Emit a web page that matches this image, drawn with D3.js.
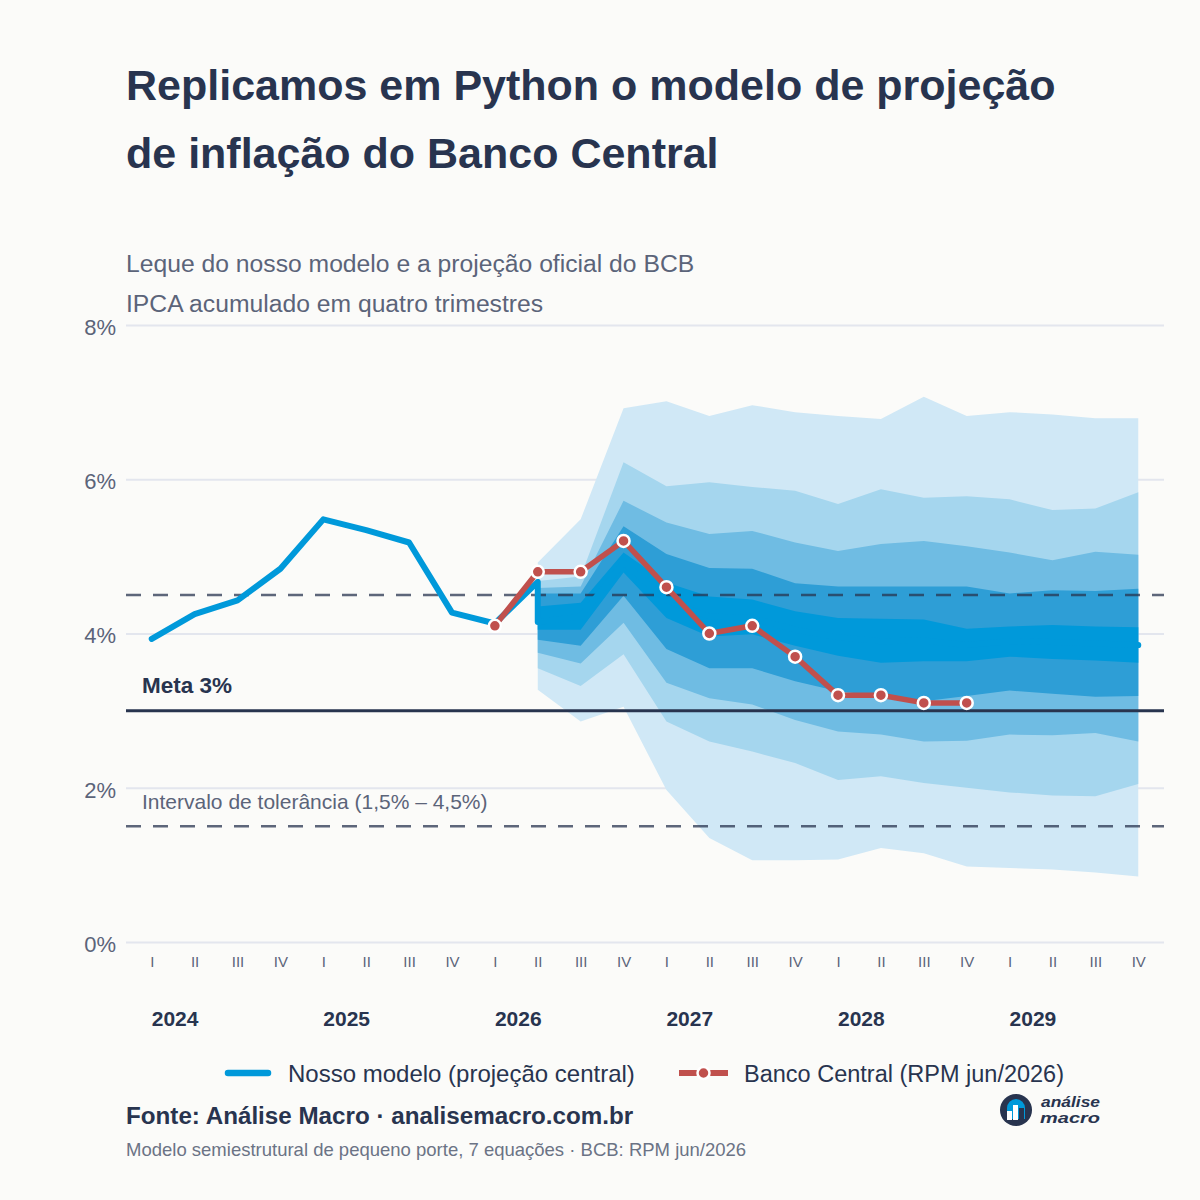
<!DOCTYPE html>
<html>
<head>
<meta charset="utf-8">
<script src="https://cdn.jsdelivr.net/npm/d3@7"></script>
<style>
  html, body { margin: 0; padding: 0; background: #fbfbf9; }
  svg { display: block; font-family: "Liberation Sans", Arial, Helvetica, sans-serif; }
</style>
</head>
<body>
<svg id="chart" width="1200" height="1200"></svg>
<script>
// dados
const years = [2024, 2025, 2026, 2027, 2028, 2029];
const romans = ['I', 'II', 'III', 'IV'];
const quarters = years.flatMap(y => romans.map(r => `${y}-${r}`));

// IPCA observado (2024-I a 2026-II)
const historico = [3.93, 4.25, 4.43, 4.84, 5.48, 5.34, 5.18, 4.27, 4.13, 4.67];
// projeção central do nosso modelo (2026-II a 2029-IV)
const central = [4.15, 4.22, 4.92, 4.43, 4.22, 4.20, 4.05, 3.95, 3.90, 3.91, 3.85, 3.90, 3.89, 3.87, 3.85];
// bandas do leque (de fora para dentro)
const sup1 = [4.92, 5.48, 6.92, 7.01, 6.82, 6.96, 6.87, 6.82, 6.78, 7.07, 6.82, 6.87, 6.84, 6.79, 6.79];
const sup2 = [4.68, 4.74, 6.22, 5.91, 5.96, 5.90, 5.85, 5.68, 5.87, 5.76, 5.78, 5.74, 5.60, 5.62, 5.83];
const sup3 = [4.59, 4.61, 5.72, 5.44, 5.29, 5.33, 5.18, 5.07, 5.16, 5.20, 5.13, 5.05, 4.95, 5.06, 5.02];
const sup4 = [4.52, 4.52, 5.39, 5.03, 4.85, 4.84, 4.65, 4.61, 4.61, 4.61, 4.61, 4.52, 4.56, 4.55, 4.58];
const sup5 = [4.35, 4.40, 5.05, 4.66, 4.48, 4.44, 4.29, 4.20, 4.19, 4.18, 4.06, 4.09, 4.11, 4.09, 4.08];
const inf5 = [4.05, 4.05, 4.79, 4.20, 3.96, 3.99, 3.84, 3.71, 3.62, 3.64, 3.64, 3.70, 3.67, 3.65, 3.62];
const inf4 = [3.92, 3.84, 4.49, 3.80, 3.55, 3.55, 3.38, 3.25, 3.19, 3.12, 3.19, 3.26, 3.22, 3.18, 3.19];
const inf3 = [3.75, 3.61, 4.14, 3.36, 3.16, 3.08, 2.88, 2.73, 2.69, 2.60, 2.61, 2.69, 2.68, 2.71, 2.60];
const inf2 = [3.55, 3.32, 3.73, 2.86, 2.60, 2.47, 2.32, 2.10, 2.15, 2.06, 2.00, 1.94, 1.90, 1.89, 2.05];
const inf1 = [3.27, 2.86, 3.05, 1.97, 1.35, 1.06, 1.06, 1.07, 1.22, 1.15, 0.98, 0.96, 0.94, 0.90, 0.85];
// Banco Central, RPM jun/2026 (2026-I a 2028-IV)
const bcb = [4.1, 4.8, 4.8, 5.2, 4.6, 4.0, 4.1, 3.7, 3.2, 3.2, 3.1, 3.1];

const yTicks = [0, 2, 4, 6, 8];
const meta = 3;
const tolerancia = [1.5, 4.5];

const histQ = quarters.slice(0, historico.length);
const projQ = quarters.slice(historico.length - 1);
const bcbQ = quarters.slice(8, 8 + bcb.length);

// cores
const navy = '#28344f';
const gray = '#5b6479';
const blue = '#0099da';
const fanColors = ['#d0e8f6', '#a5d6ee', '#6fbce3', '#2e9ed6', '#0099da'];
const red = '#c0504d';

const svg = d3.select('#chart');
svg.append('rect').attr('width', 1200).attr('height', 1200).attr('fill', '#fbfbf9');

const left = 126, right = 1164;
const x = d3.scalePoint().domain(quarters).range([left, right]).padding(0.6);
const y = d3.scaleLinear().domain([0, 8]).range([942, 325]);

// títulos
const title = svg.append('text')
  .attr('x', 126).attr('y', 100)
  .attr('fill', navy)
  .style('font-size', '43px').style('font-weight', 'bold');
title.append('tspan').attr('x', 126).text('Replicamos em Python o modelo de projeção');
title.append('tspan').attr('x', 126).attr('y', 168).text('de inflação do Banco Central');

svg.append('text').attr('x', 126).attr('y', 272)
  .attr('fill', gray).style('font-size', '24.7px')
  .text('Leque do nosso modelo e a projeção oficial do BCB');
svg.append('text').attr('x', 126).attr('y', 312)
  .attr('fill', gray).style('font-size', '24.7px')
  .text('IPCA acumulado em quatro trimestres');

// eixo y com grade
const yAxis = svg.append('g')
  .attr('transform', `translate(${left},0)`)
  .call(d3.axisLeft(y).tickValues(yTicks).tickFormat(d => d + '%')
    .tickSize(-(right - left)).tickPadding(10));
yAxis.select('.domain').remove();
yAxis.selectAll('line').attr('stroke', '#e3e6ee').attr('stroke-width', 2);
yAxis.selectAll('text')
  .attr('fill', gray).attr('dy', '0.42em')
  .style('font-size', '22px').style('font-family', '"Liberation Sans", Arial, sans-serif');

// eixo x (trimestres)
const xAxis = svg.append('g')
  .attr('transform', `translate(0,${y(0)})`)
  .call(d3.axisBottom(x).tickSize(0).tickPadding(14).tickFormat(d => d.split('-')[1]));
xAxis.select('.domain').remove();
xAxis.selectAll('text')
  .attr('fill', gray)
  .style('font-size', '15px').style('font-family', '"Liberation Sans", Arial, sans-serif');

svg.append('g').selectAll('text')
  .data(years)
  .join('text')
  .attr('x', d => x(`${d}-I`))
  .attr('y', 1026)
  .attr('fill', navy)
  .style('font-size', '21px').style('font-weight', 'bold')
  .text(d => d);

// leque
const bandas = [
  [sup1, inf1], [sup2, inf2], [sup3, inf3], [sup4, inf4], [sup5, inf5]
];
const area = d3.area()
  .x((d, i) => x(projQ[i]))
  .y0(d => y(d[1]))
  .y1(d => y(d[0]));

svg.append('g').selectAll('path')
  .data(bandas)
  .join('path')
  .attr('d', b => area(b[0].map((v, i) => [v, b[1][i]])))
  .attr('fill', (d, i) => fanColors[i]);

// intervalo de tolerância
svg.append('g').selectAll('line')
  .data(tolerancia)
  .join('line')
  .attr('x1', left).attr('x2', right)
  .attr('y1', d => y(d)).attr('y2', d => y(d))
  .attr('stroke', navy).attr('stroke-opacity', 0.75)
  .attr('stroke-width', 2.5).attr('stroke-dasharray', '15,12');

// meta
svg.append('line')
  .attr('x1', left).attr('x2', right)
  .attr('y1', y(meta)).attr('y2', y(meta))
  .attr('stroke', navy).attr('stroke-width', 3);

svg.append('text').attr('x', 142).attr('y', 693)
  .attr('fill', navy).style('font-size', '22.5px').style('font-weight', 'bold')
  .text('Meta 3%');
svg.append('text').attr('x', 142).attr('y', 809)
  .attr('fill', gray).style('font-size', '21px')
  .text('Intervalo de tolerância (1,5% – 4,5%)');

// nosso modelo: histórico + projeção central
const modelo = historico.map((v, i) => [histQ[i], v])
  .concat(central.map((v, i) => [projQ[i], v]));
const line = d3.line().x(d => x(d[0])).y(d => y(d[1]));

svg.append('path')
  .datum(modelo)
  .attr('d', line)
  .attr('fill', 'none')
  .attr('stroke', blue).attr('stroke-width', 6)
  .attr('stroke-linejoin', 'round').attr('stroke-linecap', 'round');

// Banco Central
const bcbPts = bcb.map((v, i) => [bcbQ[i], v]);
svg.append('path')
  .datum(bcbPts)
  .attr('d', line)
  .attr('fill', 'none')
  .attr('stroke', red).attr('stroke-width', 5.5)
  .attr('stroke-linejoin', 'round');
svg.append('g').selectAll('circle')
  .data(bcbPts)
  .join('circle')
  .attr('cx', d => x(d[0])).attr('cy', d => y(d[1]))
  .attr('r', 6)
  .attr('fill', red).attr('stroke', '#ffffff').attr('stroke-width', 2.5);

// legenda
const leg = svg.append('g');
leg.append('line').attr('x1', 228).attr('x2', 268).attr('y1', 1073).attr('y2', 1073)
  .attr('stroke', blue).attr('stroke-width', 6.5).attr('stroke-linecap', 'round');
leg.append('text').attr('x', 288).attr('y', 1082)
  .attr('fill', navy).style('font-size', '24px')
  .text('Nosso modelo (projeção central)');
leg.append('line').attr('x1', 679).attr('x2', 728).attr('y1', 1073).attr('y2', 1073)
  .attr('stroke', red).attr('stroke-width', 6);
leg.append('circle').attr('cx', 703.5).attr('cy', 1073).attr('r', 6)
  .attr('fill', red).attr('stroke', '#ffffff').attr('stroke-width', 2.5);
leg.append('text').attr('x', 744).attr('y', 1082)
  .attr('fill', navy).style('font-size', '23.5px')
  .text('Banco Central (RPM jun/2026)');

// rodapé
svg.append('text').attr('x', 126).attr('y', 1124)
  .attr('fill', navy).style('font-size', '24.2px').style('font-weight', 'bold')
  .text('Fonte: Análise Macro · analisemacro.com.br');
svg.append('text').attr('x', 126).attr('y', 1156)
  .attr('fill', '#6b7385').style('font-size', '18.5px')
  .text('Modelo semiestrutural de pequeno porte, 7 equações · BCB: RPM jun/2026');

// logo
const logo = svg.append('g').attr('transform', 'translate(1016,1110)');
logo.append('circle').attr('r', 16).attr('fill', navy);
logo.append('path')
  .attr('d', 'M-9,9 V-2 A9,9 0 0 1 9,-2 V9 Z')
  .attr('fill', blue);
logo.append('rect').attr('x', -9).attr('y', 1).attr('width', 5).attr('height', 9).attr('fill', '#ffffff');
logo.append('rect').attr('x', -3).attr('y', -5).attr('width', 5).attr('height', 15).attr('fill', '#ffffff');
logo.append('rect').attr('x', 3).attr('y', -2).attr('width', 5).attr('height', 12).attr('fill', navy);
svg.append('text').attr('x', 1041).attr('y', 1107)
  .attr('fill', navy).style('font-size', '14.5px').style('font-weight', 'bold')
  .style('font-style', 'italic')
  .attr('textLength', 59).attr('lengthAdjust', 'spacingAndGlyphs')
  .text('análise');
svg.append('text').attr('x', 1040).attr('y', 1123)
  .attr('fill', navy).style('font-size', '14.5px').style('font-weight', 'bold')
  .style('font-style', 'italic')
  .attr('textLength', 60).attr('lengthAdjust', 'spacingAndGlyphs')
  .text('macro');
</script>
</body>
</html>
